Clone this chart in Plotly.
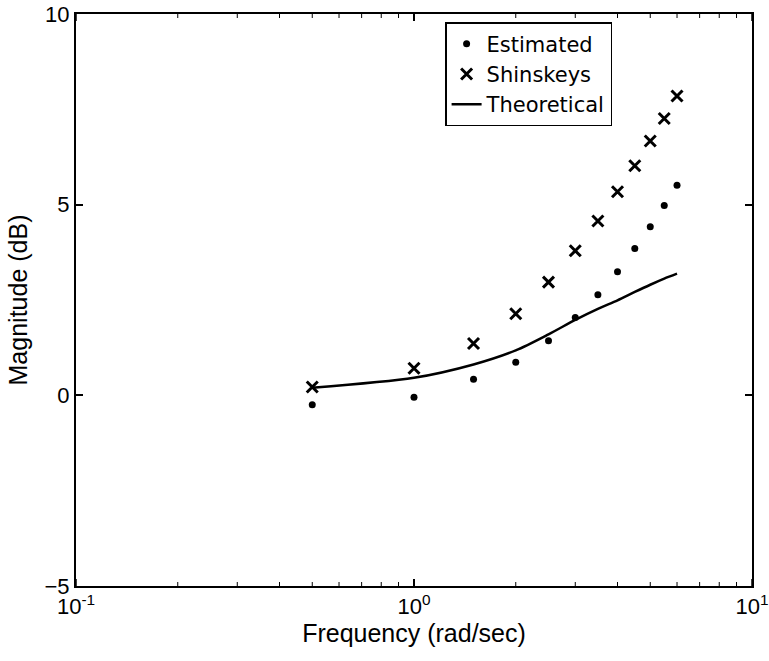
import plotly.graph_objects as go

# Frequency points (rad/sec)
freq = [0.5, 1.0, 1.5, 2.0, 2.5, 3.0, 3.5, 4.0, 4.5, 5.0, 5.5, 6.0]

# Magnitude (dB) for each method
estimated = [-0.25, -0.05, 0.42, 0.87, 1.43, 2.04, 2.64, 3.24, 3.85, 4.42, 4.98, 5.51]
shinskeys = [0.22, 0.71, 1.36, 2.14, 2.97, 3.79, 4.57, 5.34, 6.02, 6.67, 7.26, 7.85]
theoretical = [0.20, 0.46, 0.81, 1.18, 1.60, 1.98, 2.27, 2.49, 2.71, 2.90, 3.06, 3.19]

# Decade labels, and unlabelled ticks at 2..9 within each decade
x_major = [0.1, 1, 10]
x_major_text = ["10<sup>-1</sup>", "10<sup>0</sup>", "10<sup>1</sup>"]
x_minor = [m * d for d in (0.1, 1) for m in range(2, 10)]
y_tickvals = [-5, 0, 5, 10]

font_family = "Liberation Sans, Arial, sans-serif"

fig = go.Figure()
fig.add_trace(go.Scatter(
    x=freq, y=estimated, mode="markers", name="Estimated",
    marker=dict(symbol="circle", size=7, color="black"),
))
fig.add_trace(go.Scatter(
    x=freq, y=shinskeys, mode="markers", name="Shinskeys",
    marker=dict(symbol="x-thin", size=11, color="black",
                line=dict(color="black", width=3)),
))
fig.add_trace(go.Scatter(
    x=freq, y=theoretical, mode="lines", name="Theoretical",
    line=dict(color="black", width=2.5, shape="spline", smoothing=0.8),
))

# Inward tick marks on the bottom and top edges of the log axis
for vals, length, width in ((x_major, 7, 1.5), (x_minor, 4, 1.0)):
    for v in vals:
        for anchor, sign in ((0, 1), (1, -1)):
            fig.add_shape(
                type="line", xref="x", yref="paper",
                x0=v, x1=v, ysizemode="pixel", yanchor=anchor,
                y0=0, y1=sign * length,
                line=dict(color="black", width=width),
            )

fig.update_layout(
    width=769, height=661,
    margin=dict(l=76, r=17, t=14, b=75, autoexpand=False),
    paper_bgcolor="white", plot_bgcolor="white",
    font=dict(family=font_family, size=22, color="black"),
    showlegend=True,
    legend=dict(
        x=0.546, y=0.986, xanchor="left", yanchor="top",
        bgcolor="white", bordercolor="black", borderwidth=1.5,
        font=dict(family="DejaVu Sans, Liberation Sans, sans-serif",
                  size=21, color="black"),
        itemwidth=30, tracegroupgap=0,
    ),
)

fig.update_xaxes(
    type="log", range=[-1, 1],
    tickmode="array", tickvals=x_major, ticktext=x_major_text,
    ticks="inside", ticklen=7, tickwidth=1.5, tickcolor="black",
    showline=True, linecolor="black", linewidth=2, mirror="ticks",
    showgrid=False, zeroline=False,
    title=dict(text="Frequency (rad/sec)", font=dict(size=25), standoff=6),
    tickfont=dict(size=22),
)
fig.update_yaxes(
    range=[-5, 10],
    tickvals=y_tickvals,
    ticks="inside", ticklen=7, tickwidth=1.5, tickcolor="black",
    showline=True, linecolor="black", linewidth=2, mirror="ticks",
    showgrid=False, zeroline=False,
    title=dict(text="Magnitude (dB)", font=dict(size=25), standoff=10),
    tickfont=dict(size=22),
)

fig.write_html("out.html")
